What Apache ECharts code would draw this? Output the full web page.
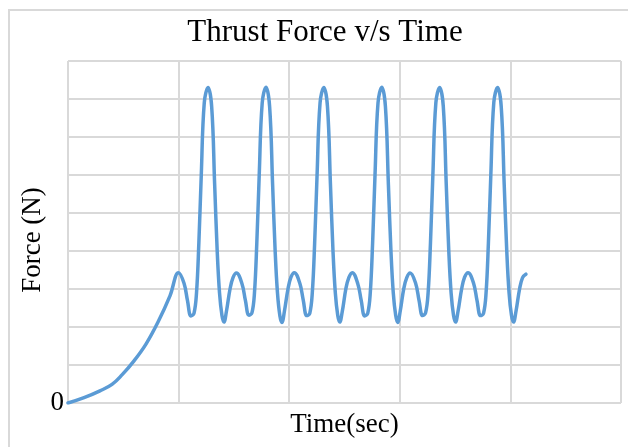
<!DOCTYPE html>
<html>
<head>
<meta charset="utf-8">
<title>Thrust Force v/s Time</title>
<script src="https://cdn.jsdelivr.net/npm/echarts@6.0.0/dist/echarts.min.js"></script>
<style>
  html, body { margin: 0; padding: 0; background: #ffffff; }
  #chart { width: 628px; height: 447px; }
</style>
</head>
<body>
<div id="chart"></div>
<script>
// Time samples (sec) and thrust force (N) along the run
var timeSec = [
  0, 0.145, 0.289, 0.398, 0.488, 0.597, 0.705, 0.814, 0.922,
  0.999, 1.049, 1.080, 1.112, 1.139, 1.162, 1.183, 1.205, 1.232, 1.266, 1.299, 1.326, 1.349, 1.370, 1.392, 1.410, 1.433, 1.465, 1.492,
  1.523, 1.573, 1.604, 1.636, 1.663, 1.686, 1.707, 1.729, 1.756, 1.790, 1.823, 1.850, 1.873, 1.894, 1.916, 1.934, 1.957, 1.989, 2.016,
  2.046, 2.096, 2.127, 2.159, 2.186, 2.209, 2.230, 2.252, 2.279, 2.313, 2.346, 2.373, 2.396, 2.417, 2.439, 2.457, 2.480, 2.512, 2.539,
  2.570, 2.620, 2.651, 2.683, 2.710, 2.733, 2.754, 2.776, 2.803, 2.837, 2.870, 2.897, 2.920, 2.941, 2.963, 2.981, 3.004, 3.036, 3.063,
  3.093, 3.143, 3.174, 3.206, 3.233, 3.256, 3.277, 3.299, 3.326, 3.360, 3.393, 3.420, 3.443, 3.464, 3.486, 3.504, 3.527, 3.559, 3.586,
  3.617, 3.667, 3.698, 3.730, 3.757, 3.780, 3.801, 3.823, 3.850, 3.884, 3.917, 3.944, 3.967, 3.988, 4.010, 4.028, 4.051, 4.083, 4.110,
  4.140
];

var forceN = [
  0, 0.14, 0.32, 0.49, 0.74, 1.11, 1.55, 2.13, 2.82,
  3.43, 3.15, 2.70, 2.29, 2.36, 2.90, 4.20, 6.00, 7.90, 8.30, 7.80, 5.75, 4.00, 2.90, 2.30, 2.13, 2.42, 3.00, 3.30,
  3.42, 3.14, 2.70, 2.31, 2.37, 2.90, 4.20, 6.00, 7.90, 8.31, 7.80, 5.75, 4.00, 2.90, 2.29, 2.12, 2.42, 3.00, 3.31,
  3.43, 3.15, 2.71, 2.30, 2.36, 2.91, 4.20, 6.00, 7.90, 8.30, 7.80, 5.75, 4.00, 2.90, 2.30, 2.13, 2.41, 3.00, 3.30,
  3.43, 3.14, 2.70, 2.29, 2.36, 2.90, 4.20, 6.01, 7.90, 8.31, 7.80, 5.74, 4.00, 2.90, 2.30, 2.12, 2.42, 3.01, 3.30,
  3.42, 3.15, 2.70, 2.30, 2.37, 2.90, 4.19, 6.00, 7.90, 8.30, 7.81, 5.75, 4.00, 2.89, 2.30, 2.13, 2.42, 3.00, 3.31,
  3.43, 3.15, 2.70, 2.30, 2.36, 2.90, 4.20, 6.00, 7.91, 8.30, 7.80, 5.75, 4.01, 2.90, 2.30, 2.13, 2.42, 3.00, 3.30,
  3.39
];

// Axis ranges and the only tick label shown on the force axis
var timeMin = 0, timeMax = 5, timeStep = 1;
var forceMin = 0, forceMax = 9, forceStep = 1;
var forceTickLabels = ['0'];

var chartTitle = 'Thrust Force v/s Time';
var xName = 'Time(sec)';
var yName = 'Force (N)';

var serif = '"Liberation Serif", "Times New Roman", serif';
var gridColor = '#d9d9d9';

var points = timeSec.map(function (t, i) { return [t, forceN[i]]; });

var chart = echarts.init(document.getElementById('chart'), null, { renderer: 'canvas' });

chart.setOption({
  backgroundColor: '#ffffff',
  animation: false,
  title: {
    text: chartTitle,
    left: 325,
    top: 17,
    padding: 0,
    textAlign: 'center',
    textStyle: { fontFamily: serif, fontSize: 31, fontWeight: 'normal', color: '#000000' }
  },
  graphic: [
    {
      type: 'rect',
      silent: true,
      z: -10,
      shape: { x: 9, y: 10, width: 700, height: 500 },
      style: { fill: 'none', stroke: gridColor, lineWidth: 2 }
    },
    {
      type: 'text',
      x: 33,
      y: 240,
      rotation: Math.PI / 2,
      style: {
        text: yName,
        fontFamily: serif,
        fontSize: 27,
        fill: '#000000',
        textAlign: 'center',
        textVerticalAlign: 'middle',
        align: 'center',
        verticalAlign: 'middle'
      }
    }
  ],
  grid: {
    left: 68,
    top: 61,
    right: 7,
    bottom: 44,
    containLabel: false,
    outerBoundsMode: 'none'
  },
  xAxis: {
    type: 'value',
    min: timeMin,
    max: timeMax,
    interval: timeStep,
    name: xName,
    nameLocation: 'middle',
    nameGap: 8,
    nameTextStyle: { fontFamily: serif, fontSize: 27, color: '#000000', verticalAlign: 'top' },
    axisLine: { show: false },
    axisTick: { show: false },
    axisLabel: { show: false },
    splitLine: { show: true, lineStyle: { color: gridColor, width: 2 } }
  },
  yAxis: {
    type: 'value',
    min: forceMin,
    max: forceMax,
    interval: forceStep,
    axisLine: { show: false },
    axisTick: { show: false },
    axisLabel: {
      show: true,
      margin: 4,
      fontFamily: serif,
      fontSize: 27,
      color: '#000000',
      padding: [0, 0, 8, 0],
      formatter: function (v) {
        var s = String(v);
        return forceTickLabels.indexOf(s) >= 0 ? s : '';
      }
    },
    splitLine: { show: true, lineStyle: { color: gridColor, width: 2 } }
  },
  series: [
    {
      type: 'line',
      data: points,
      showSymbol: false,
      smooth: 0.4,
      lineStyle: { color: '#5b9bd5', width: 3.5, cap: 'round', join: 'round' },
      itemStyle: { color: '#5b9bd5' },
      z: 3
    }
  ]
});
</script>
</body>
</html>
